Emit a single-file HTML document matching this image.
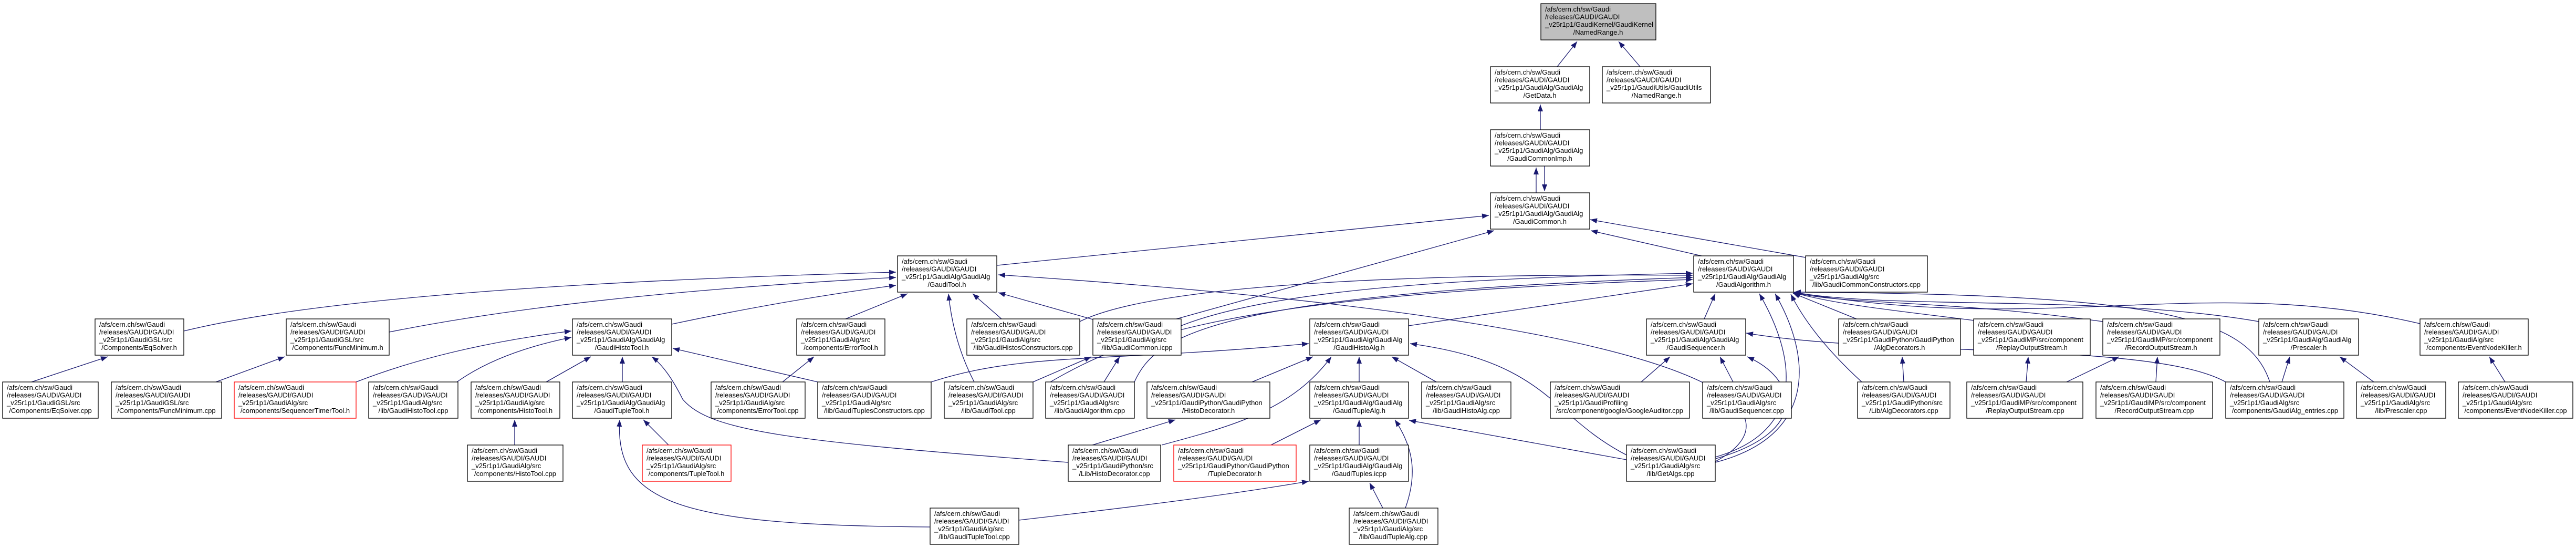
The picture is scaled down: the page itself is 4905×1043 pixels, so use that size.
<!DOCTYPE html>
<html><head><meta charset="utf-8"><style>
html,body{margin:0;padding:0;background:#fff}
svg{display:block}
text{font-family:"Liberation Sans",Arial,sans-serif;font-size:13px;fill:#000}
.n rect{fill:#fff;stroke:#000;stroke-width:1.3}
.e{fill:none;stroke:#191970;stroke-width:1.3;marker-end:url(#ah)}
</style></head><body>
<svg width="4905" height="1043" viewBox="0 0 4905 1043" xmlns="http://www.w3.org/2000/svg">
<defs><marker id="ah" markerUnits="userSpaceOnUse" markerWidth="14" markerHeight="12" refX="13" refY="5" orient="auto"><path d="M0,0 L13,5 L0,10 z" fill="#191970"/></marker></defs>
<g>
<path class="e" d="M2965 127 L3003 79"/>
<path class="e" d="M3123 127 L3082 79"/>
<path class="e" d="M2933 247 L2933 199"/>
<path class="e" d="M2925 367 L2925 319"/>
<path class="e" d="M2941 247 L2941 364"/>
<path class="e" d="M1899 505 L2835 410"/>
<path class="e" d="M3240 487 L3029 439"/>
<path class="e" d="M3438 490 L3028 418"/>
<path class="e" d="M2240 607 L2845 439"/>
<path class="e" d="M350 630 Q700 545 1706 518"/>
<path class="e" d="M741 632 Q1100 560 1706 528"/>
<path class="e" d="M1279 617 Q1500 570 1706 543"/>
<path class="e" d="M1610 607 L1728 559"/>
<path class="e" d="M1907 607 L1852 559"/>
<path class="e" d="M2088 610 L1901 557"/>
<path class="e" d="M1855 727 Q1815 650 1806 559"/>
<path class="e" d="M3263 880 C3420 800 3380 620 1901 523"/>
<path class="e" d="M2249 620 C2400 560 2700 530 3223 520"/>
<path class="e" d="M2056 612 C2200 540 2700 520 3223 524"/>
<path class="e" d="M2160 727 C2200 640 2300 560 3223 528"/>
<path class="e" d="M2000 727 C2150 640 2350 560 3223 532"/>
<path class="e" d="M2682 620 L3223 540"/>
<path class="e" d="M3245 607 L3266 559"/>
<path class="e" d="M3266 870 C3440 820 3420 680 3350 559"/>
<path class="e" d="M3266 880 C3460 830 3450 680 3380 559"/>
<path class="e" d="M3545 727 Q3450 640 3410 560"/>
<path class="e" d="M3535 607 L3414 558"/>
<path class="e" d="M3760 610 C3600 590 3500 580 3415 557"/>
<path class="e" d="M4004 612 C3700 570 3500 580 3415 556"/>
<path class="e" d="M4301 612 C4000 560 3600 590 3415 556"/>
<path class="e" d="M4608 616 C4200 520 3900 640 3415 556"/>
<path class="e" d="M4322 727 C4280 600 4100 560 3416 556"/>
<path class="e" d="M60 727 L205 679"/>
<path class="e" d="M411 727 L542 679"/>
<path class="e" d="M678 727 Q850 660 1088 630"/>
<path class="e" d="M870 727 Q950 670 1088 642"/>
<path class="e" d="M1040 727 L1125 679"/>
<path class="e" d="M1185 727 L1185 679"/>
<path class="e" d="M1557 727 L1281 663"/>
<path class="e" d="M2034 880 C1500 840 1350 820 1300 760 Q1270 700 1241 679"/>
<path class="e" d="M980 847 L980 799"/>
<path class="e" d="M1490 727 L1550 679"/>
<path class="e" d="M1273 847 L1225 799"/>
<path class="e" d="M1771 1003 C1300 1000 1170 960 1180 799"/>
<path class="e" d="M1967 727 L2078 679"/>
<path class="e" d="M2102 727 L2132 679"/>
<path class="e" d="M1773 727 C1950 670 2100 690 2492 654"/>
<path class="e" d="M2384 727 L2500 679"/>
<path class="e" d="M2588 727 L2588 679"/>
<path class="e" d="M2735 727 L2650 679"/>
<path class="e" d="M2212 847 C2350 810 2460 780 2535 679"/>
<path class="e" d="M3097 866 C2950 790 2950 690 2685 654"/>
<path class="e" d="M2080 847 L2238 799"/>
<path class="e" d="M2420 847 L2515 799"/>
<path class="e" d="M2588 847 L2588 799"/>
<path class="e" d="M2676 967 C2700 900 2690 850 2656 799"/>
<path class="e" d="M3097 875 L2683 800"/>
<path class="e" d="M1940 990 C2200 960 2350 940 2492 916"/>
<path class="e" d="M2633 967 L2608 919"/>
<path class="e" d="M3125 727 L3180 679"/>
<path class="e" d="M3300 727 L3275 679"/>
<path class="e" d="M3267 873 C3450 820 3420 720 3327 679"/>
<path class="e" d="M4238 727 C4100 650 3600 680 3325 634"/>
<path class="e" d="M3625 727 L3622 679"/>
<path class="e" d="M3858 727 L3862 679"/>
<path class="e" d="M3935 727 L4035 679"/>
<path class="e" d="M4105 727 L4108 679"/>
<path class="e" d="M4345 727 L4360 679"/>
<path class="e" d="M4520 727 L4455 679"/>
<path class="e" d="M4770 727 L4740 679"/>
</g>
<g class="n"><rect x="2934" y="7" width="219" height="69" style="fill:#bfbfbf"/><text x="2942" y="22">/afs/cern.ch/sw/Gaudi</text><text x="2942" y="36.5">/releases/GAUDI/GAUDI</text><text x="2942" y="51">_v25r1p1/GaudiKernel/GaudiKernel</text><text x="3043" y="66" text-anchor="middle">/NamedRange.h</text></g>
<g class="n"><rect x="2838" y="127" width="189" height="69"/><text x="2846" y="142">/afs/cern.ch/sw/Gaudi</text><text x="2846" y="156.5">/releases/GAUDI/GAUDI</text><text x="2846" y="171">_v25r1p1/GaudiAlg/GaudiAlg</text><text x="2932" y="186" text-anchor="middle">/GetData.h</text></g>
<g class="n"><rect x="3051" y="127" width="206" height="69"/><text x="3059" y="142">/afs/cern.ch/sw/Gaudi</text><text x="3059" y="156.5">/releases/GAUDI/GAUDI</text><text x="3059" y="171">_v25r1p1/GaudiUtils/GaudiUtils</text><text x="3154" y="186" text-anchor="middle">/NamedRange.h</text></g>
<g class="n"><rect x="2838" y="247" width="189" height="69"/><text x="2846" y="262">/afs/cern.ch/sw/Gaudi</text><text x="2846" y="276.5">/releases/GAUDI/GAUDI</text><text x="2846" y="291">_v25r1p1/GaudiAlg/GaudiAlg</text><text x="2932" y="306" text-anchor="middle">/GaudiCommonImp.h</text></g>
<g class="n"><rect x="2838" y="367" width="189" height="69"/><text x="2846" y="382">/afs/cern.ch/sw/Gaudi</text><text x="2846" y="396.5">/releases/GAUDI/GAUDI</text><text x="2846" y="411">_v25r1p1/GaudiAlg/GaudiAlg</text><text x="2932" y="426" text-anchor="middle">/GaudiCommon.h</text></g>
<g class="n"><rect x="1709" y="487" width="189" height="69"/><text x="1717" y="502">/afs/cern.ch/sw/Gaudi</text><text x="1717" y="516.5">/releases/GAUDI/GAUDI</text><text x="1717" y="531">_v25r1p1/GaudiAlg/GaudiAlg</text><text x="1803" y="546" text-anchor="middle">/GaudiTool.h</text></g>
<g class="n"><rect x="3225" y="487" width="190" height="69"/><text x="3233" y="502">/afs/cern.ch/sw/Gaudi</text><text x="3233" y="516.5">/releases/GAUDI/GAUDI</text><text x="3233" y="531">_v25r1p1/GaudiAlg/GaudiAlg</text><text x="3320" y="546" text-anchor="middle">/GaudiAlgorithm.h</text></g>
<g class="n"><rect x="3438" y="487" width="232" height="69"/><text x="3446" y="502">/afs/cern.ch/sw/Gaudi</text><text x="3446" y="516.5">/releases/GAUDI/GAUDI</text><text x="3446" y="531">_v25r1p1/GaudiAlg/src</text><text x="3554" y="546" text-anchor="middle">/lib/GaudiCommonConstructors.cpp</text></g>
<g class="n"><rect x="181" y="607" width="169" height="69"/><text x="189" y="622">/afs/cern.ch/sw/Gaudi</text><text x="189" y="636.5">/releases/GAUDI/GAUDI</text><text x="189" y="651">_v25r1p1/GaudiGSL/src</text><text x="265" y="666" text-anchor="middle">/Components/EqSolver.h</text></g>
<g class="n"><rect x="545" y="607" width="196" height="69"/><text x="553" y="622">/afs/cern.ch/sw/Gaudi</text><text x="553" y="636.5">/releases/GAUDI/GAUDI</text><text x="553" y="651">_v25r1p1/GaudiGSL/src</text><text x="643" y="666" text-anchor="middle">/Components/FuncMinimum.h</text></g>
<g class="n"><rect x="1090" y="607" width="189" height="69"/><text x="1098" y="622">/afs/cern.ch/sw/Gaudi</text><text x="1098" y="636.5">/releases/GAUDI/GAUDI</text><text x="1098" y="651">_v25r1p1/GaudiAlg/GaudiAlg</text><text x="1184" y="666" text-anchor="middle">/GaudiHistoTool.h</text></g>
<g class="n"><rect x="1517" y="607" width="168" height="69"/><text x="1525" y="622">/afs/cern.ch/sw/Gaudi</text><text x="1525" y="636.5">/releases/GAUDI/GAUDI</text><text x="1525" y="651">_v25r1p1/GaudiAlg/src</text><text x="1601" y="666" text-anchor="middle">/components/ErrorTool.h</text></g>
<g class="n"><rect x="1841" y="607" width="215" height="69"/><text x="1849" y="622">/afs/cern.ch/sw/Gaudi</text><text x="1849" y="636.5">/releases/GAUDI/GAUDI</text><text x="1849" y="651">_v25r1p1/GaudiAlg/src</text><text x="1948" y="666" text-anchor="middle">/lib/GaudiHistosConstructors.cpp</text></g>
<g class="n"><rect x="2081" y="607" width="168" height="69"/><text x="2089" y="622">/afs/cern.ch/sw/Gaudi</text><text x="2089" y="636.5">/releases/GAUDI/GAUDI</text><text x="2089" y="651">_v25r1p1/GaudiAlg/src</text><text x="2165" y="666" text-anchor="middle">/lib/GaudiCommon.icpp</text></g>
<g class="n"><rect x="2494" y="607" width="188" height="69"/><text x="2502" y="622">/afs/cern.ch/sw/Gaudi</text><text x="2502" y="636.5">/releases/GAUDI/GAUDI</text><text x="2502" y="651">_v25r1p1/GaudiAlg/GaudiAlg</text><text x="2588" y="666" text-anchor="middle">/GaudiHistoAlg.h</text></g>
<g class="n"><rect x="3135" y="607" width="189" height="69"/><text x="3143" y="622">/afs/cern.ch/sw/Gaudi</text><text x="3143" y="636.5">/releases/GAUDI/GAUDI</text><text x="3143" y="651">_v25r1p1/GaudiAlg/GaudiAlg</text><text x="3229" y="666" text-anchor="middle">/GaudiSequencer.h</text></g>
<g class="n"><rect x="3501" y="607" width="232" height="69"/><text x="3509" y="622">/afs/cern.ch/sw/Gaudi</text><text x="3509" y="636.5">/releases/GAUDI/GAUDI</text><text x="3509" y="651">_v25r1p1/GaudiPython/GaudiPython</text><text x="3617" y="666" text-anchor="middle">/AlgDecorators.h</text></g>
<g class="n"><rect x="3758" y="607" width="222" height="69"/><text x="3766" y="622">/afs/cern.ch/sw/Gaudi</text><text x="3766" y="636.5">/releases/GAUDI/GAUDI</text><text x="3766" y="651">_v25r1p1/GaudiMP/src/component</text><text x="3869" y="666" text-anchor="middle">/ReplayOutputStream.h</text></g>
<g class="n"><rect x="4004" y="607" width="223" height="69"/><text x="4012" y="622">/afs/cern.ch/sw/Gaudi</text><text x="4012" y="636.5">/releases/GAUDI/GAUDI</text><text x="4012" y="651">_v25r1p1/GaudiMP/src/component</text><text x="4115" y="666" text-anchor="middle">/RecordOutputStream.h</text></g>
<g class="n"><rect x="4301" y="607" width="190" height="69"/><text x="4309" y="622">/afs/cern.ch/sw/Gaudi</text><text x="4309" y="636.5">/releases/GAUDI/GAUDI</text><text x="4309" y="651">_v25r1p1/GaudiAlg/GaudiAlg</text><text x="4396" y="666" text-anchor="middle">/Prescaler.h</text></g>
<g class="n"><rect x="4608" y="607" width="206" height="69"/><text x="4616" y="622">/afs/cern.ch/sw/Gaudi</text><text x="4616" y="636.5">/releases/GAUDI/GAUDI</text><text x="4616" y="651">_v25r1p1/GaudiAlg/src</text><text x="4711" y="666" text-anchor="middle">/components/EventNodeKiller.h</text></g>
<g class="n"><rect x="5" y="727" width="182" height="69"/><text x="13" y="742">/afs/cern.ch/sw/Gaudi</text><text x="13" y="756.5">/releases/GAUDI/GAUDI</text><text x="13" y="771">_v25r1p1/GaudiGSL/src</text><text x="96" y="786" text-anchor="middle">/Components/EqSolver.cpp</text></g>
<g class="n"><rect x="212" y="727" width="210" height="69"/><text x="220" y="742">/afs/cern.ch/sw/Gaudi</text><text x="220" y="756.5">/releases/GAUDI/GAUDI</text><text x="220" y="771">_v25r1p1/GaudiGSL/src</text><text x="317" y="786" text-anchor="middle">/Components/FuncMinimum.cpp</text></g>
<g class="n"><rect x="446" y="727" width="232" height="69" style="stroke:#ff0000"/><text x="454" y="742">/afs/cern.ch/sw/Gaudi</text><text x="454" y="756.5">/releases/GAUDI/GAUDI</text><text x="454" y="771">_v25r1p1/GaudiAlg/src</text><text x="562" y="786" text-anchor="middle">/components/SequencerTimerTool.h</text></g>
<g class="n"><rect x="702" y="727" width="170" height="69"/><text x="710" y="742">/afs/cern.ch/sw/Gaudi</text><text x="710" y="756.5">/releases/GAUDI/GAUDI</text><text x="710" y="771">_v25r1p1/GaudiAlg/src</text><text x="787" y="786" text-anchor="middle">/lib/GaudiHistoTool.cpp</text></g>
<g class="n"><rect x="897" y="727" width="169" height="69"/><text x="905" y="742">/afs/cern.ch/sw/Gaudi</text><text x="905" y="756.5">/releases/GAUDI/GAUDI</text><text x="905" y="771">_v25r1p1/GaudiAlg/src</text><text x="981" y="786" text-anchor="middle">/components/HistoTool.h</text></g>
<g class="n"><rect x="1090" y="727" width="189" height="69"/><text x="1098" y="742">/afs/cern.ch/sw/Gaudi</text><text x="1098" y="756.5">/releases/GAUDI/GAUDI</text><text x="1098" y="771">_v25r1p1/GaudiAlg/GaudiAlg</text><text x="1184" y="786" text-anchor="middle">/GaudiTupleTool.h</text></g>
<g class="n"><rect x="1354" y="727" width="179" height="69"/><text x="1362" y="742">/afs/cern.ch/sw/Gaudi</text><text x="1362" y="756.5">/releases/GAUDI/GAUDI</text><text x="1362" y="771">_v25r1p1/GaudiAlg/src</text><text x="1443" y="786" text-anchor="middle">/components/ErrorTool.cpp</text></g>
<g class="n"><rect x="1557" y="727" width="216" height="69"/><text x="1565" y="742">/afs/cern.ch/sw/Gaudi</text><text x="1565" y="756.5">/releases/GAUDI/GAUDI</text><text x="1565" y="771">_v25r1p1/GaudiAlg/src</text><text x="1665" y="786" text-anchor="middle">/lib/GaudiTuplesConstructors.cpp</text></g>
<g class="n"><rect x="1798" y="727" width="169" height="69"/><text x="1806" y="742">/afs/cern.ch/sw/Gaudi</text><text x="1806" y="756.5">/releases/GAUDI/GAUDI</text><text x="1806" y="771">_v25r1p1/GaudiAlg/src</text><text x="1882" y="786" text-anchor="middle">/lib/GaudiTool.cpp</text></g>
<g class="n"><rect x="1991" y="727" width="169" height="69"/><text x="1999" y="742">/afs/cern.ch/sw/Gaudi</text><text x="1999" y="756.5">/releases/GAUDI/GAUDI</text><text x="1999" y="771">_v25r1p1/GaudiAlg/src</text><text x="2075" y="786" text-anchor="middle">/lib/GaudiAlgorithm.cpp</text></g>
<g class="n"><rect x="2184" y="727" width="234" height="69"/><text x="2192" y="742">/afs/cern.ch/sw/Gaudi</text><text x="2192" y="756.5">/releases/GAUDI/GAUDI</text><text x="2192" y="771">_v25r1p1/GaudiPython/GaudiPython</text><text x="2301" y="786" text-anchor="middle">/HistoDecorator.h</text></g>
<g class="n"><rect x="2494" y="727" width="188" height="69"/><text x="2502" y="742">/afs/cern.ch/sw/Gaudi</text><text x="2502" y="756.5">/releases/GAUDI/GAUDI</text><text x="2502" y="771">_v25r1p1/GaudiAlg/GaudiAlg</text><text x="2588" y="786" text-anchor="middle">/GaudiTupleAlg.h</text></g>
<g class="n"><rect x="2707" y="727" width="170" height="69"/><text x="2715" y="742">/afs/cern.ch/sw/Gaudi</text><text x="2715" y="756.5">/releases/GAUDI/GAUDI</text><text x="2715" y="771">_v25r1p1/GaudiAlg/src</text><text x="2792" y="786" text-anchor="middle">/lib/GaudiHistoAlg.cpp</text></g>
<g class="n"><rect x="2952" y="727" width="265" height="69"/><text x="2960" y="742">/afs/cern.ch/sw/Gaudi</text><text x="2960" y="756.5">/releases/GAUDI/GAUDI</text><text x="2960" y="771">_v25r1p1/GaudiProfiling</text><text x="3084" y="786" text-anchor="middle">/src/component/google/GoogleAuditor.cpp</text></g>
<g class="n"><rect x="3242" y="727" width="169" height="69"/><text x="3250" y="742">/afs/cern.ch/sw/Gaudi</text><text x="3250" y="756.5">/releases/GAUDI/GAUDI</text><text x="3250" y="771">_v25r1p1/GaudiAlg/src</text><text x="3326" y="786" text-anchor="middle">/lib/GaudiSequencer.cpp</text></g>
<g class="n"><rect x="3537" y="727" width="176" height="69"/><text x="3545" y="742">/afs/cern.ch/sw/Gaudi</text><text x="3545" y="756.5">/releases/GAUDI/GAUDI</text><text x="3545" y="771">_v25r1p1/GaudiPython/src</text><text x="3625" y="786" text-anchor="middle">/Lib/AlgDecorators.cpp</text></g>
<g class="n"><rect x="3745" y="727" width="221" height="69"/><text x="3753" y="742">/afs/cern.ch/sw/Gaudi</text><text x="3753" y="756.5">/releases/GAUDI/GAUDI</text><text x="3753" y="771">_v25r1p1/GaudiMP/src/component</text><text x="3856" y="786" text-anchor="middle">/ReplayOutputStream.cpp</text></g>
<g class="n"><rect x="3991" y="727" width="222" height="69"/><text x="3999" y="742">/afs/cern.ch/sw/Gaudi</text><text x="3999" y="756.5">/releases/GAUDI/GAUDI</text><text x="3999" y="771">_v25r1p1/GaudiMP/src/component</text><text x="4102" y="786" text-anchor="middle">/RecordOutputStream.cpp</text></g>
<g class="n"><rect x="4238" y="727" width="225" height="69"/><text x="4246" y="742">/afs/cern.ch/sw/Gaudi</text><text x="4246" y="756.5">/releases/GAUDI/GAUDI</text><text x="4246" y="771">_v25r1p1/GaudiAlg/src</text><text x="4351" y="786" text-anchor="middle">/components/GaudiAlg_entries.cpp</text></g>
<g class="n"><rect x="4487" y="727" width="170" height="69"/><text x="4495" y="742">/afs/cern.ch/sw/Gaudi</text><text x="4495" y="756.5">/releases/GAUDI/GAUDI</text><text x="4495" y="771">_v25r1p1/GaudiAlg/src</text><text x="4572" y="786" text-anchor="middle">/lib/Prescaler.cpp</text></g>
<g class="n"><rect x="4681" y="727" width="218" height="69"/><text x="4689" y="742">/afs/cern.ch/sw/Gaudi</text><text x="4689" y="756.5">/releases/GAUDI/GAUDI</text><text x="4689" y="771">_v25r1p1/GaudiAlg/src</text><text x="4790" y="786" text-anchor="middle">/components/EventNodeKiller.cpp</text></g>
<g class="n"><rect x="890" y="847" width="182" height="69"/><text x="898" y="862">/afs/cern.ch/sw/Gaudi</text><text x="898" y="876.5">/releases/GAUDI/GAUDI</text><text x="898" y="891">_v25r1p1/GaudiAlg/src</text><text x="981" y="906" text-anchor="middle">/components/HistoTool.cpp</text></g>
<g class="n"><rect x="1223" y="847" width="169" height="69" style="stroke:#ff0000"/><text x="1231" y="862">/afs/cern.ch/sw/Gaudi</text><text x="1231" y="876.5">/releases/GAUDI/GAUDI</text><text x="1231" y="891">_v25r1p1/GaudiAlg/src</text><text x="1307" y="906" text-anchor="middle">/components/TupleTool.h</text></g>
<g class="n"><rect x="2034" y="847" width="176" height="69"/><text x="2042" y="862">/afs/cern.ch/sw/Gaudi</text><text x="2042" y="876.5">/releases/GAUDI/GAUDI</text><text x="2042" y="891">_v25r1p1/GaudiPython/src</text><text x="2122" y="906" text-anchor="middle">/Lib/HistoDecorator.cpp</text></g>
<g class="n"><rect x="2235" y="847" width="233" height="69" style="stroke:#ff0000"/><text x="2243" y="862">/afs/cern.ch/sw/Gaudi</text><text x="2243" y="876.5">/releases/GAUDI/GAUDI</text><text x="2243" y="891">_v25r1p1/GaudiPython/GaudiPython</text><text x="2351" y="906" text-anchor="middle">/TupleDecorator.h</text></g>
<g class="n"><rect x="2494" y="847" width="188" height="69"/><text x="2502" y="862">/afs/cern.ch/sw/Gaudi</text><text x="2502" y="876.5">/releases/GAUDI/GAUDI</text><text x="2502" y="891">_v25r1p1/GaudiAlg/GaudiAlg</text><text x="2588" y="906" text-anchor="middle">/GaudiTuples.icpp</text></g>
<g class="n"><rect x="3097" y="847" width="169" height="69"/><text x="3105" y="862">/afs/cern.ch/sw/Gaudi</text><text x="3105" y="876.5">/releases/GAUDI/GAUDI</text><text x="3105" y="891">_v25r1p1/GaudiAlg/src</text><text x="3181" y="906" text-anchor="middle">/lib/GetAlgs.cpp</text></g>
<g class="n"><rect x="1771" y="967" width="169" height="69"/><text x="1779" y="982">/afs/cern.ch/sw/Gaudi</text><text x="1779" y="996.5">/releases/GAUDI/GAUDI</text><text x="1779" y="1011">_v25r1p1/GaudiAlg/src</text><text x="1855" y="1026" text-anchor="middle">/lib/GaudiTupleTool.cpp</text></g>
<g class="n"><rect x="2569" y="967" width="169" height="69"/><text x="2577" y="982">/afs/cern.ch/sw/Gaudi</text><text x="2577" y="996.5">/releases/GAUDI/GAUDI</text><text x="2577" y="1011">_v25r1p1/GaudiAlg/src</text><text x="2653" y="1026" text-anchor="middle">/lib/GaudiTupleAlg.cpp</text></g>
</svg>
</body></html>
